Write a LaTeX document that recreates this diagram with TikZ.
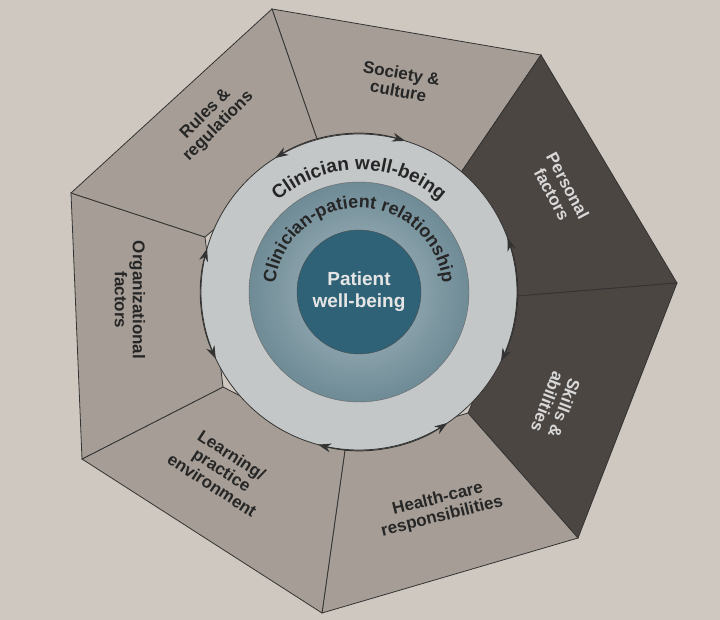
\documentclass[tikz,border=0pt]{standalone}
\usepackage{fontspec}
\setmainfont{Liberation Sans}
\usetikzlibrary{decorations.text,arrows.meta}
\definecolor{paper}{HTML}{CFC8C0}
\definecolor{segA}{HTML}{A69E96}
\definecolor{segB}{HTML}{4C4643}
\definecolor{ringA}{HTML}{C3C7C7}
\definecolor{ringB}{HTML}{6E8B96}
\definecolor{core}{HTML}{2F6276}
\tikzset{
  seg/.style={draw=black!80, line width=0.8pt},
  lbl/.style={font=\bfseries\fontsize{17}{18}\selectfont, align=center, text=black!85},
  ringarrow/.style={{Stealth[length=13pt,width=9pt]}-{Stealth[length=13pt,width=9pt]}, line width=0.9pt, black!80}
}
\begin{document}
\begin{tikzpicture}[x=1pt,y=1pt]
  \fill[paper] (0,0) rectangle (720,620);
  % outer vertices
  \coordinate (o1) at (272,611);
  \coordinate (o2) at (541,565);
  \coordinate (o3) at (677,337);
  \coordinate (o4) at (578,82);
  \coordinate (o5) at (322,7);
  \coordinate (o6) at (82,161);
  \coordinate (o7) at (71,427);
  % inner vertices
  \coordinate (i1) at (318,478);
  \coordinate (i2) at (460,446);
  \coordinate (i3) at (518,324);
  \coordinate (i4) at (468,207);
  \coordinate (i5) at (345,170);
  \coordinate (i6) at (223,233);
  \coordinate (i7) at (205,383);
  \coordinate (c) at (359,328);
  % segments
  \foreach \a/\b/\col in {1/2/segA,2/3/segB,3/4/segB,4/5/segA,5/6/segA,6/7/segA,7/1/segA}
    \filldraw[seg, fill=\col] (o\a) -- (o\b) -- (i\b) -- (i\a) -- cycle;
  % rings
  \filldraw[draw=black!80, line width=0.8pt, fill=ringA] (c) circle (158);
  \shade[inner color=ringB!60!white, outer color=ringB] (c) circle (110);
  \draw[black!60] (c) circle (110);
  \filldraw[draw=black!70, fill=core] (c) circle (62);
  % arrows on ring
  \foreach \s/\e in {122/73,20/-26,-56/-105,-155/-196}
    \draw[ringarrow] ([shift={(\s:158)}]c) arc[start angle=\s, end angle=\e, radius=158];
  % curved texts
  \path[decorate, decoration={text effects along path, text={Clinician well-being},
      text align=center, text effects/.cd, text along path,
      characters={font=\bfseries\fontsize{19}{19}\selectfont, text=black!85}}]
    ([shift={(150:122)}]c) arc[start angle=150, end angle=30, radius=122];
  \path[decorate, decoration={text effects along path, text={Clinician-patient relationship},
      text align=center, text effects/.cd, text along path,
      characters={font=\bfseries\fontsize{18}{18}\selectfont, text=black!85}}]
    ([shift={(195:84)}]c) arc[start angle=195, end angle=-15, radius=84];
  \node (patient) [font=\bfseries\fontsize{19}{22}\selectfont, text=white!90!black, align=center] at (c) {Patient\\well-being};
  % outer labels
  \node (society) [lbl, rotate=-10] at (400,538) {Society \&\\culture};
  \node (personal) [lbl, rotate=-62, text=white!85!black] at (560,430) {Personal\\factors};
  \node (skills) [lbl, rotate=-111, text=white!85!black] at (556,215) {Skills \&\\abilities};
  \node (health) [lbl, rotate=14] at (440,112) {Health-care\\responsibilities};
  \node (learning) [lbl, rotate=-33] at (222,150) {Learning/\\practice\\environment};
  \node (org) [lbl, rotate=-90] at (130,320) {Organizational\\factors};
  \node (rules) [lbl, rotate=45] at (212,500) {Rules \&\\regulations};
\end{tikzpicture}
\end{document}
